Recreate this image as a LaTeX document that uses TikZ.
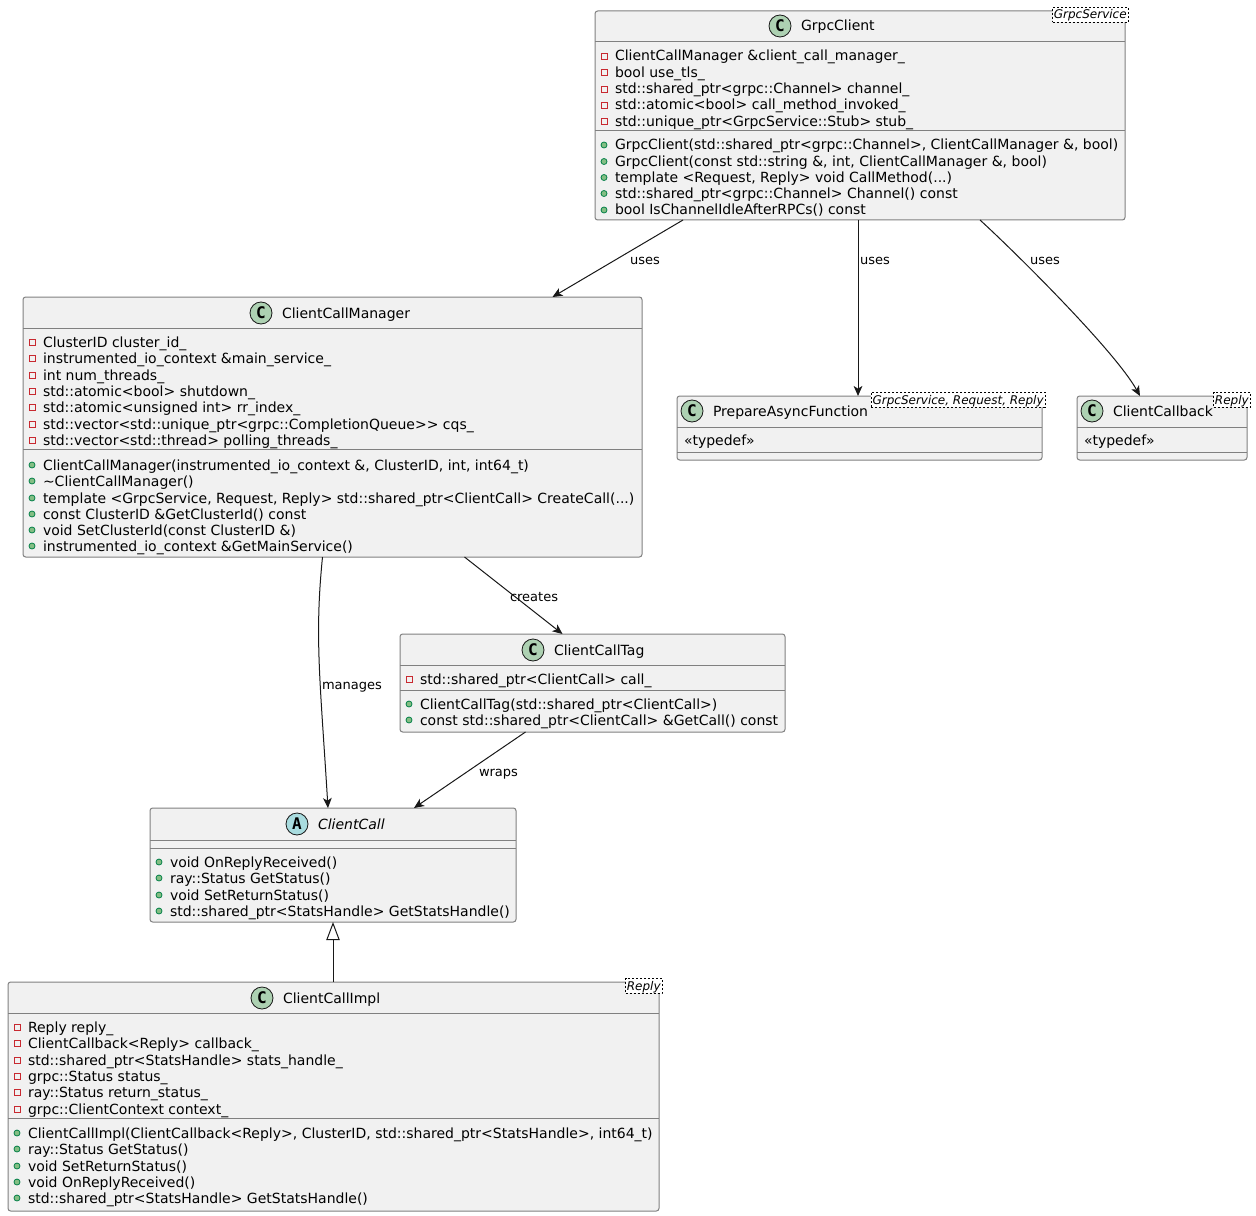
\documentclass[tikz,border=0pt]{standalone}
\usepackage{fontspec}
\usetikzlibrary{calc,arrows.meta}
\newfontfamily\umlfont[Ligatures=NoCommon]{DejaVu Sans}
\newfontfamily\umlicon[BoldFont={DejaVu Sans Mono Bold}]{DejaVu Sans Mono}
\definecolor{boxfill}{HTML}{F1F1F1}
\definecolor{boxline}{HTML}{808080}
\definecolor{edgeink}{HTML}{181818}
\definecolor{classicon}{HTML}{ADD1B2}
\definecolor{abstracticon}{HTML}{A9DCDF}
\definecolor{privline}{HTML}{C82930}
\definecolor{pubfill}{HTML}{84BE84}
\definecolor{publine}{HTML}{038048}
\newcounter{memb}
\tikzset{
  x=0.75pt,y=-0.75pt,
  umlbox/.style={draw=boxline,fill=boxfill,line width=0.75pt,rounded corners=2pt,inner sep=0pt,outer sep=0pt},
  sepline/.style={draw=boxline,line width=0.75pt},
  memtext/.style={anchor=base west,inner sep=0pt,outer sep=0pt,font=\umlfont\fontsize{10.5pt}{12pt}\selectfont},
  titletext/.style={memtext},
  abstitle/.style={anchor=base west,inner sep=0pt,outer sep=0pt,font=\umlfont\itshape\fontsize{10.5pt}{12pt}\selectfont},
  edgelabel/.style={anchor=base west,inner sep=0pt,outer sep=0pt,font=\umlfont\fontsize{9.75pt}{12pt}\selectfont},
  tmpl/.style={draw=black,dashed,dash pattern=on 1.5pt off 1.5pt,line width=0.5pt,fill=white,inner sep=1pt,outer sep=0pt,font=\umlfont\itshape\fontsize{9pt}{10pt}\selectfont,anchor=north east,text height=8pt,text depth=1.5pt},
  icon/.style={circle,draw=edgeink,line width=0.6pt,inner sep=0pt,outer sep=0pt,minimum size=16.5pt,font=\umlicon\bfseries\fontsize{12pt}{12pt}\selectfont},
  privicon/.style={rectangle,draw=privline,line width=0.6pt,fill=none,inner sep=0pt,outer sep=0pt,minimum size=4.5pt},
  pubicon/.style={circle,draw=publine,line width=0.6pt,fill=pubfill,inner sep=0pt,outer sep=0pt,minimum size=4.5pt},
  assoc/.style={draw=edgeink,line width=0.75pt,-{Stealth[length=7.5pt,width=6.5pt,inset=2pt]}},
  extends/.style={draw=edgeink,line width=0.75pt,-{Triangle[open,fill=white,length=13.5pt,width=10pt]}},
}
% box: name x1 y1 x2 y2
\newcommand\umlclass[5]{\node[umlbox,minimum width={(#4-#2)*0.75pt},minimum height={(#5-#3)*0.75pt}] (#1) at ({(#2+#4)/2},{(#3+#5)/2}) {};}
% separator: box, y
\newcommand\sepat[2]{\path[sepline] (#1.west |- 0,#2) -- (#1.east |- 0,#2);}
% private member: x (text start), centre y, text
\newcommand\privm[3]{\stepcounter{memb}\node[privicon] (ic\arabic{memb}) at ({#1-11},{#2}) {};\node[memtext] (tx\arabic{memb}) at (#1,{#2+5}) {#3};}
\newcommand\pubm[3]{\stepcounter{memb}\node[pubicon] (ic\arabic{memb}) at ({#1-11},{#2}) {};\node[memtext] (tx\arabic{memb}) at (#1,{#2+5}) {#3};}
\newcommand\plainm[3]{\stepcounter{memb}\node[memtext] (tx\arabic{memb}) at (#1,{#2+5}) {#3};}
\newcommand\us{\_}
\begin{document}
\begin{tikzpicture}
\useasboundingbox (0,0) rectangle (1256,1216);
\fill[white] (0,0) rectangle (1256,1216);

% edges first
% GrpcClient
\umlclass{gc}{595}{11}{1125}{220}
\sepat{gc}{42}\sepat{gc}{131}
\node[icon,fill=classicon] (gcicon) at (780,26) {C};
\node[titletext] (gctitle) at (801,31) {GrpcClient};
\node[tmpl] (gctmpl) at (1128,7) {GrpcService};
\privm{615}{56}{ClientCallManager \&client\us call\us manager\us}
\privm{615}{72.5}{bool use\us tls\us}
\privm{615}{89}{std::shared\us ptr<grpc::Channel> channel\us}
\privm{615}{105}{std::atomic<bool> call\us method\us invoked\us}
\privm{615}{121.5}{std::unique\us ptr<GrpcService::Stub> stub\us}
\pubm{615}{145}{GrpcClient(std::shared\us ptr<grpc::Channel>, ClientCallManager \&, bool)}
\pubm{615}{161.5}{GrpcClient(const std::string \&, int, ClientCallManager \&, bool)}
\pubm{615}{177.5}{template <Request, Reply> void CallMethod(...)}
\pubm{615}{193.5}{std::shared\us ptr<grpc::Channel> Channel() const}
\pubm{615}{210}{bool IsChannelIdleAfterRPCs() const}

% ClientCallManager
\umlclass{ccm}{23}{297}{642}{557}
\sepat{ccm}{328}\sepat{ccm}{449}
\node[icon,fill=classicon] (ccmicon) at (261,313) {C};
\node[titletext] (ccmtitle) at (282,318) {ClientCallManager};
\privm{43}{342}{ClusterID cluster\us id\us}
\privm{43}{358}{instrumented\us io\us context \&main\us service\us}
\privm{43}{375}{int num\us threads\us}
\privm{43}{391}{std::atomic<bool> shutdown\us}
\privm{43}{407}{std::atomic<unsigned int> rr\us index\us}
\privm{43}{424}{std::vector<std::unique\us ptr<grpc::CompletionQueue>{}> cqs\us}
\privm{43}{440}{std::vector<std::thread> polling\us threads\us}
\pubm{43}{465}{ClientCallManager(instrumented\us io\us context \&, ClusterID, int, int64\us t)}
\pubm{43}{481}{\textasciitilde ClientCallManager()}
\pubm{43}{498}{template <GrpcService, Request, Reply> std::shared\us ptr<ClientCall> CreateCall(...)}
\pubm{43}{514}{const ClusterID \&GetClusterId() const}
\pubm{43}{530}{void SetClusterId(const ClusterID \&)}
\pubm{43}{546}{instrumented\us io\us context \&GetMainService()}

% PrepareAsyncFunction
\umlclass{paf}{677}{396}{1042}{460}
\sepat{paf}{427}\sepat{paf}{452}
\node[icon,fill=classicon] (paficon) at (692,411) {C};
\node[titletext] (paftitle) at (713,416) {PrepareAsyncFunction};
\node[tmpl] (paftmpl) at (1045,392) {GrpcService, Request, Reply};
\plainm{684}{440}{«typedef»}

% ClientCallback
\umlclass{cb}{1077}{396}{1247}{460}
\sepat{cb}{427}\sepat{cb}{452}
\node[icon,fill=classicon] (cbicon) at (1092,411) {C};
\node[titletext] (cbtitle) at (1113,416) {ClientCallback};
\node[tmpl] (cbtmpl) at (1250,392) {Reply};
\plainm{1084}{440}{«typedef»}

% ClientCallTag
\umlclass{tag}{400}{634}{785}{732}
\sepat{tag}{665}\sepat{tag}{690}
\node[icon,fill=classicon] (tagicon) at (533,650) {C};
\node[titletext] (tagtitle) at (554,655) {ClientCallTag};
\privm{420}{679}{std::shared\us ptr<ClientCall> call\us}
\pubm{420}{704}{ClientCallTag(std::shared\us ptr<ClientCall>)}
\pubm{420}{720}{const std::shared\us ptr<ClientCall> \&GetCall() const}

% ClientCall
\umlclass{call}{150}{808}{516}{922}
\sepat{call}{840}\sepat{call}{848}
\node[icon,fill=abstracticon] (callicon) at (297,824) {A};
\node[abstitle] (calltitle) at (318,829) {ClientCall};
\pubm{170}{862}{void OnReplyReceived()}
\pubm{170}{878}{ray::Status GetStatus()}
\pubm{170}{895}{void SetReturnStatus()}
\pubm{170}{911}{std::shared\us ptr<StatsHandle> GetStatsHandle()}

% ClientCallImpl
\umlclass{impl}{8}{982}{659}{1211}
\sepat{impl}{1013}\sepat{impl}{1118}
\node[icon,fill=classicon] (implicon) at (262,998) {C};
\node[titletext] (impltitle) at (283,1003) {ClientCallImpl};
\node[tmpl] (impltmpl) at (662,978) {Reply};
\privm{28}{1027}{Reply reply\us}
\privm{28}{1043}{ClientCallback<Reply> callback\us}
\privm{28}{1060}{std::shared\us ptr<StatsHandle> stats\us handle\us}
\privm{28}{1076}{grpc::Status status\us}
\privm{28}{1092}{ray::Status return\us status\us}
\privm{28}{1109}{grpc::ClientContext context\us}
\pubm{28}{1133}{ClientCallImpl(ClientCallback<Reply>, ClusterID, std::shared\us ptr<StatsHandle>, int64\us t)}
\pubm{28}{1149}{ray::Status GetStatus()}
\pubm{28}{1166}{void SetReturnStatus()}
\pubm{28}{1182}{void OnReplyReceived()}
\pubm{28}{1198}{std::shared\us ptr<StatsHandle> GetStatsHandle()}

% connectors
\draw[assoc] ($(gc.south)+(-177,0)$) -- ($(ccm.north)+(220,0)$);
\draw[assoc] ($(gc.south)+(-2,0)$) -- ($(paf.north)+(-1.5,0)$);
\draw[assoc] ($(gc.south)+(120,0)$) .. controls +(35,32) and +(-25,-45) .. ($(cb.north)+(-22,0)$);
\draw[assoc] ($(ccm.south)+(-10,0)$) .. controls +(-8,80) and +(-8,-130) .. ($(call.north)+(-5,0)$);
\draw[assoc] ($(ccm.south)+(132,0)$) -- ($(tag.north)+(-30,0)$);
\draw[assoc] ($(tag.south)+(-67,0)$) -- ($(call.north)+(81,0)$);
\draw[extends] (impl.north -| call.south) -- (call.south);

\node[edgelabel] (lab1) at (630,265) {uses};
\node[edgelabel] (lab2) at (860,265) {uses};
\node[edgelabel] (lab3) at (1030,265) {uses};
\node[edgelabel] (lab4) at (322,689) {manages};
\node[edgelabel] (lab5) at (510,601) {creates};
\node[edgelabel] (lab6) at (479,776) {wraps};
\end{tikzpicture}
\end{document}
